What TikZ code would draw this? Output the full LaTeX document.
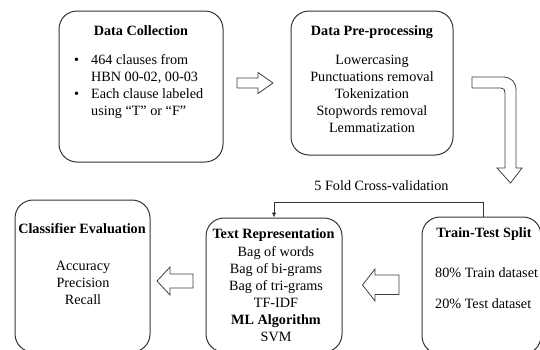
\documentclass[tikz,border=0pt]{standalone}
\usepackage{fontspec}
\setmainfont{Liberation Serif}
\usetikzlibrary{arrows.meta}
\newcommand{\boxfont}{\fontsize{14.2}{17}\selectfont}

\begin{document}
\begin{tikzpicture}[x=1pt,y=-1pt,
    stage/.style={draw=black!80,line width=1pt,rounded corners=18pt,inner sep=0pt},
    head/.style={font=\boxfont\bfseries,inner sep=0pt,anchor=base},
    body/.style={font=\boxfont,align=center,inner sep=0pt},
    flow/.style={draw=black!80,line width=0.8pt,-{Latex[length=5pt,width=4.5pt]}},
    hollow/.style={draw=black!75,line width=0.8pt,fill=white}]
    \useasboundingbox (0,0) rectangle (540,349);
    \clip (0,0) rectangle (540,349);
    % the five stages
    \node[stage,minimum width=164,minimum height=151] (collect) at (141,86.5) {};
    \node[stage,minimum width=162,minimum height=144] (prep) at (372,83) {};
    \node[stage,minimum width=119,minimum height=137] (split) at (481.5,285.5) {};
    \node[stage,minimum width=136,minimum height=134] (textrep) at (274,285) {};
    \node[stage,minimum width=135,minimum height=152] (evaluate) at (82.5,276) {};
    % titles and contents
    \node[head] (collecttitle) at (141,35) {Data Collection};
    \node[body,anchor=west] (collectlist) at (74,87) {%
        \begin{tabular}{@{}l@{}l@{}}
        \makebox[17pt][l]{\textbullet} & 464 clauses from\\
        & HBN 00-02, 00-03\\
        \makebox[17pt][l]{\textbullet} & Each clause labeled\\
        & using “T” or “F”
        \end{tabular}};
    \node[head] (preptitle) at (372,35) {Data Pre-processing};
    \node[body] (preplist) at (372,94) {Lowercasing\\Punctuations removal\\Tokenization\\Stopwords removal\\Lemmatization};
    \node[head] (splittitle) at (484,237) {Train-Test Split};
    \node[body,anchor=base west] (trainset) at (435,277) {80\% Train dataset};
    \node[body,anchor=base west] (testset) at (435,308) {20\% Test dataset};
    \node[head] (reptitle) at (273.5,238) {Text Representation};
    \node[body] (replist) at (276,294.5) {Bag of words\\Bag of bi-grams\\Bag of tri-grams\\TF-IDF\\{\bfseries ML Algorithm}\\SVM};
    \node[head] (evaltitle) at (82,233) {Classifier Evaluation};
    \node[body] (evallist) at (83,282.5) {Accuracy\\Precision\\Recall};
    % cross-validation loop
    \draw[flow] ([xshift=1.5pt]split.north) -- ++(0,-14) -| (textrep.north);
    \node[body,anchor=base] (cvlabel) at (381.5,190) {5 Fold Cross-validation};
    % hollow block arrows
    \draw[hollow] (237,78) -- (258,78) -- (258,72.5) -- (273,83) -- (258,93.5) -- (258,88) -- (237,88) -- cycle;
    \draw[hollow] (472,77) -- (503,77) .. controls (511,77) and (516,82) .. (516,90) -- (516,168)
        -- (522,168) -- (510.5,183) -- (497,168) -- (505,168) -- (505,93)
        .. controls (505,90) and (504,88) .. (501,88) -- (472,88) -- cycle;
    \draw[hollow] (399,275) -- (375,275) -- (375,269) -- (362.5,285) -- (375,301) -- (375,294.5) -- (399,294.5) -- cycle;
    \draw[hollow] (193,274) -- (170,274) -- (170,267) -- (157,281) -- (170,295) -- (170,288) -- (193,288) -- cycle;
\end{tikzpicture}
\end{document}
